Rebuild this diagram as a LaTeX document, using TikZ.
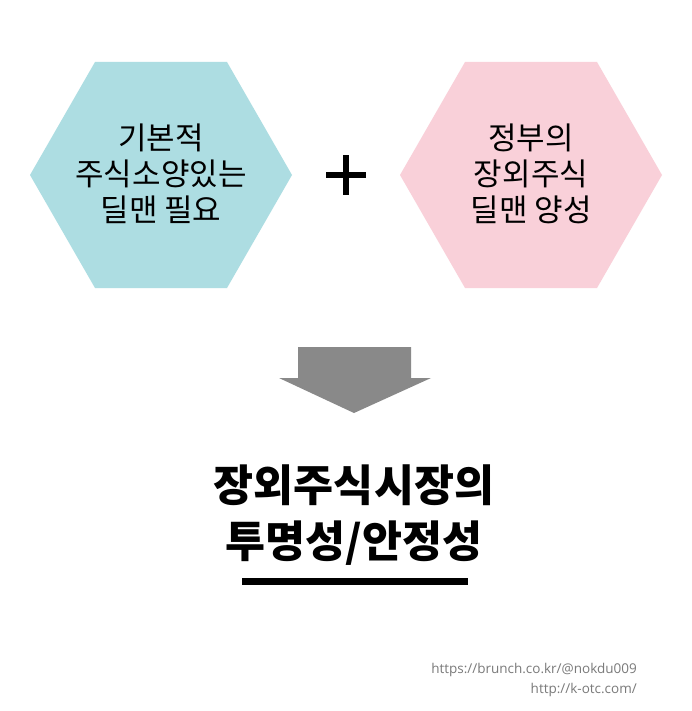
\documentclass[tikz,border=0pt]{standalone}
\usepackage{fontspec}
\newfontfamily\kr{Noto Sans CJK KR}
\newfontfamily\urlfont{Open Sans}
\definecolor{hexblue}{HTML}{ADDDE2}
\definecolor{hexpink}{HTML}{F9D0D9}
\definecolor{arrowgray}{HTML}{898989}
\definecolor{footgray}{HTML}{7A7A7A}
\tikzset{
  hextext/.style={align=center, font=\kr\fontsize{31}{36}\selectfont, text=black, inner sep=0pt},
  titletext/.style={align=center, font=\kr\bfseries\fontsize{43.5}{56}\selectfont, text=black, inner sep=0pt},
  foottext/.style={anchor=east, font=\urlfont\fontsize{13.5}{17}\selectfont, text=footgray, inner sep=0pt}
}
\begin{document}
\begin{tikzpicture}[x=1pt,y=-1pt]
\useasboundingbox[fill=white] (0,0) rectangle (691,711);
% hexagons
\fill[hexblue] (30,175) -- (95,62) -- (227,62) -- (292,175) -- (227,288) -- (95,288) -- cycle;
\fill[hexpink] (400,175) -- (465,62) -- (597,62) -- (662,175) -- (597,288) -- (465,288) -- cycle;
\node[hextext] (left) at (161,174) {기본적\\주식소양있는\\딜맨 필요};
\node[hextext] (right) at (531,174) {정부의\\장외주식\\딜맨 양성};
% plus
\fill[black] (343.2,155) rectangle (348.8,195);
\fill[black] (326,172.2) rectangle (366,177.8);
% block arrow
\fill[arrowgray] (298,347) -- (411,347) -- (411,378) -- (431,378) -- (354,413) -- (279,378) -- (298,378) -- cycle;
% title
\node[titletext] (title) at (354,515) {장외주식시장의\\투명성/안정성};
\fill[black] (242,577.5) rectangle (468,585);
% footer
\node[foottext] (url1) at (637,670) {https://brunch.co.kr/@nokdu009};
\node[foottext] (url2) at (637,690) {http://k-otc.com/};
\end{tikzpicture}
\end{document}
